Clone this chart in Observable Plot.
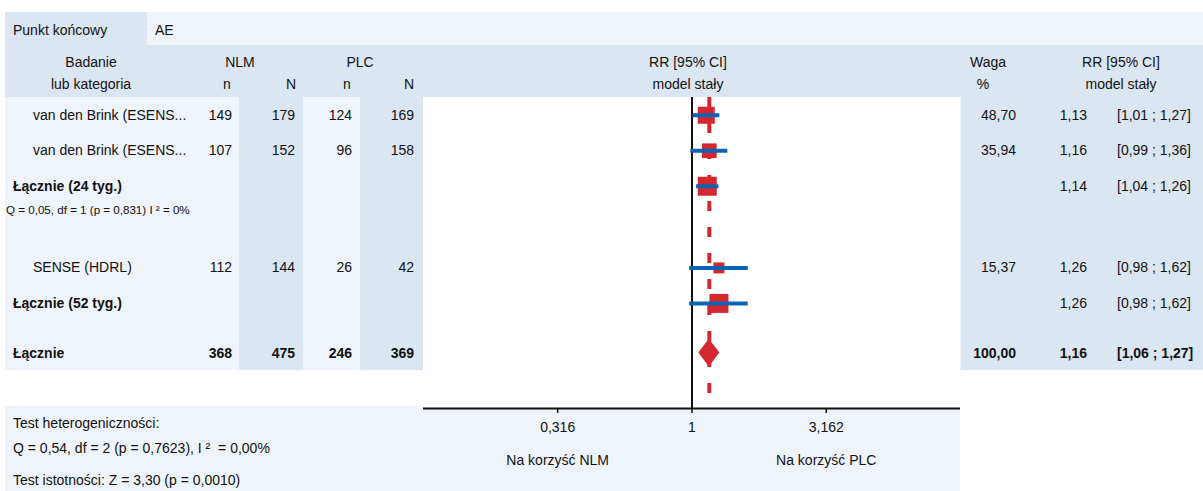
<!DOCTYPE html>
<html><head><meta charset="utf-8">
<script src="https://cdn.jsdelivr.net/npm/d3@7"></script>
<script src="https://cdn.jsdelivr.net/npm/@observablehq/plot@0.6"></script>
<style>
html,body{margin:0;padding:0;background:#fff;}
#root{position:relative;width:1203px;height:491px;overflow:hidden;font-family:"Liberation Sans",Arial,sans-serif;font-size:14px;color:#111;}
.bg{position:absolute;}
.t{position:absolute;white-space:pre;}
#forest{position:absolute;left:423px;top:97px;}
</style></head><body><div id="root"><div id="forest"></div></div>
<script>
// ---------------- DATA ----------------
const endpointLabel = "Punkt końcowy";
const endpointValue = "AE";
const rowLabels = ["van den Brink (ESENS...", "van den Brink (ESENS...", "Łącznie (24 tyg.)", "SENSE (HDRL)", "Łącznie (52 tyg.)", "Łącznie"];
const rowKinds  = ["study", "study", "subtotal", "study", "subtotal", "total"];
const nlmN_small = [149, 107, null, 112, null, 368];
const nlmN_total = [179, 152, null, 144, null, 475];
const plcN_small = [124, 96, null, 26, null, 246];
const plcN_total = [169, 158, null, 42, null, 369];
const weights    = [48.70, 35.94, null, 15.37, null, 100.00];
const rrValues   = [1.13, 1.16, 1.14, 1.26, 1.26, 1.16];
const ciLower    = [1.01, 0.99, 1.04, 0.98, 0.98, 1.06];
const ciUpper    = [1.27, 1.36, 1.26, 1.62, 1.62, 1.27];
const subgroupHet = "Q = 0,05, df = 1 (p = 0,831) I ² = 0%";
const xTicks = [0.316, 1, 3.162];
const favourLabels = [{x: 0.316, label: "Na korzyść NLM"}, {x: 3.162, label: "Na korzyść PLC"}];
const footerLines = ["Test heterogeniczności:", "Q = 0,54, df = 2 (p = 0,7623), I ²  = 0,00%", "Test istotności: Z = 3,30 (p = 0,0010)"];

// ---------------- LAYOUT ----------------
const rowPos = [0.5, 1.5, 2.5, 4.8, 5.8, 7.2]; // row slots (in row units)
const hetPos = 3.17;
const bodyEndPos = 7.7;
const yMax = 8.76;
const RED = "#d4272f", BLUE = "#0b64b2", BG_BLUE = "#dbe6f3", BG_LIGHT = "#eff4fa";
const comma = v => String(v).replace(".", ",");
const f2 = v => v.toFixed(2).replace(".", ",");

const rows = rowLabels.map((label, i) => ({
  label, kind: rowKinds[i], pos: rowPos[i],
  rr: rrValues[i], lo: ciLower[i], hi: ciUpper[i], weight: weights[i]
}));
const studyRows = rows.filter(d => d.kind === "study");
const subRows = rows.filter(d => d.kind === "subtotal");
const ciRows = rows.filter(d => d.kind !== "total");
const tot = rows.find(d => d.kind === "total");
const dh = 0.394;
const diamond = [
  {x: tot.lo, y1: tot.pos, y2: tot.pos},
  {x: tot.rr, y1: tot.pos - dh, y2: tot.pos + dh},
  {x: tot.hi, y1: tot.pos, y2: tot.pos}
];

const chart = Plot.plot({
  width: 537, height: 394,
  marginTop: 0, marginBottom: 83, marginLeft: 0, marginRight: 0,
  x: {type: "log", domain: [0.1, 10]},
  y: {domain: [0, yMax], reverse: true, axis: null},
  r: {type: "linear", domain: [15.37, 48.7], range: [6.2, 9.6]},
  style: {background: "transparent", fontFamily: "'Liberation Sans', Arial, sans-serif", fontSize: "14px", color: "#111", overflow: "visible"},
  marks: [
    Plot.frame({fill: "white", stroke: "none"}),
    Plot.ruleX([1], {stroke: "#111", strokeWidth: 2}),
    Plot.ruleX([tot.rr], {stroke: RED, strokeWidth: 4, strokeDasharray: "10,16"}),
    Plot.dot(studyRows, {x: "rr", y: "pos", r: "weight", symbol: "square", fill: RED, stroke: "none"}),
    Plot.dot(subRows, {x: "rr", y: "pos", r: 10.7, symbol: "square", fill: RED, stroke: "none"}),
    Plot.areaY(diamond, {x: "x", y1: "y1", y2: "y2", fill: RED}),
    Plot.ruleY(ciRows, {y: "pos", x1: "lo", x2: "hi", stroke: BLUE, strokeWidth: 4}),
    Plot.ruleY([yMax], {stroke: "#111", strokeWidth: 2}),
    Plot.axisX({ticks: xTicks, tickFormat: comma, tickSize: 5, tickPadding: 9, strokeWidth: 1.5, label: null, fontSize: 14}),
    Plot.text(favourLabels, {x: "x", text: "label", frameAnchor: "bottom", dy: 56, fontSize: 14})
  ]
});
document.getElementById("forest").appendChild(chart);
const ys = chart.scale("y");
const Y = p => 97 + ys.apply(p);

// ---------------- HTML TABLE ----------------
const root = document.getElementById("root");
function box(x, y, w, h, color) {
  const d = document.createElement("div");
  d.className = "bg";
  Object.assign(d.style, {left: x + "px", top: y + "px", width: w + "px", height: h + "px", background: color});
  root.insertBefore(d, root.firstChild);
}
function txt(s, x, y, align = "left", bold = false, size = 14) {
  const d = document.createElement("div");
  d.className = "t";
  d.textContent = s;
  const lh = Math.round(size * 1.15);
  d.style.fontSize = size + "px";
  d.style.lineHeight = lh + "px";
  d.style.top = (y - lh / 2) + "px";
  if (bold) d.style.fontWeight = "bold";
  if (align === "left") d.style.left = x + "px";
  else if (align === "right") { d.style.left = (x - 300) + "px"; d.style.width = "300px"; d.style.textAlign = "right"; }
  else { d.style.left = (x - 200) + "px"; d.style.width = "400px"; d.style.textAlign = "center"; }
  root.appendChild(d);
}

const bodyTop = 97, bodyBot = Y(bodyEndPos);
const bh = bodyBot - bodyTop;
box(5, 406, 955, 85, BG_LIGHT);
box(960, bodyTop, 243, bh, BG_BLUE);
box(360, bodyTop, 63, bh, BG_BLUE);
box(303, bodyTop, 57, bh, BG_LIGHT);
box(239, bodyTop, 64, bh, BG_BLUE);
box(5, bodyTop, 234, bh, BG_LIGHT);
box(5, 45, 1198, 52, BG_BLUE);
box(147, 12, 1056, 33, BG_LIGHT);
box(5, 12, 142, 33, BG_BLUE);

// top row
txt(endpointLabel, 13, 30);
txt(endpointValue, 155, 30);
// header
txt("Badanie", 91, 62, "center"); txt("lub kategoria", 91, 84, "center");
txt("NLM", 240, 62, "center"); txt("n", 227, 84, "center"); txt("N", 291, 84, "center");
txt("PLC", 360, 62, "center"); txt("n", 347, 84, "center"); txt("N", 409, 84, "center");
txt("RR [95% CI]", 688, 62, "center"); txt("model stały", 688, 84, "center");
txt("Waga", 988, 62, "center"); txt("%", 983, 84, "center");
txt("RR [95% CI]", 1121, 62, "center"); txt("model stały", 1121, 84, "center");

// body rows
rows.forEach((d, i) => {
  const y = Y(d.pos);
  const boldLabel = d.kind !== "study";
  const boldVal = d.kind === "total";
  txt(d.label, d.kind === "study" ? 33 : 13, y, "left", boldLabel);
  if (nlmN_small[i] != null) txt(String(nlmN_small[i]), 232, y, "right", boldVal);
  if (nlmN_total[i] != null) txt(String(nlmN_total[i]), 295, y, "right", boldVal);
  if (plcN_small[i] != null) txt(String(plcN_small[i]), 352, y, "right", boldVal);
  if (plcN_total[i] != null) txt(String(plcN_total[i]), 414, y, "right", boldVal);
  if (d.weight != null) txt(f2(d.weight), 1016, y, "right", boldVal);
  txt(f2(d.rr), 1087, y, "right", boldVal);
  txt(`[${f2(d.lo)} ; ${f2(d.hi)}]`, 1117, y, "left", boldVal);
});
txt(subgroupHet, 6, Y(hetPos), "left", false, 11.6);

// footer
txt(footerLines[0], 13, 423);
txt(footerLines[1], 13, 448);
txt(footerLines[2], 13, 480);
</script></body></html>
